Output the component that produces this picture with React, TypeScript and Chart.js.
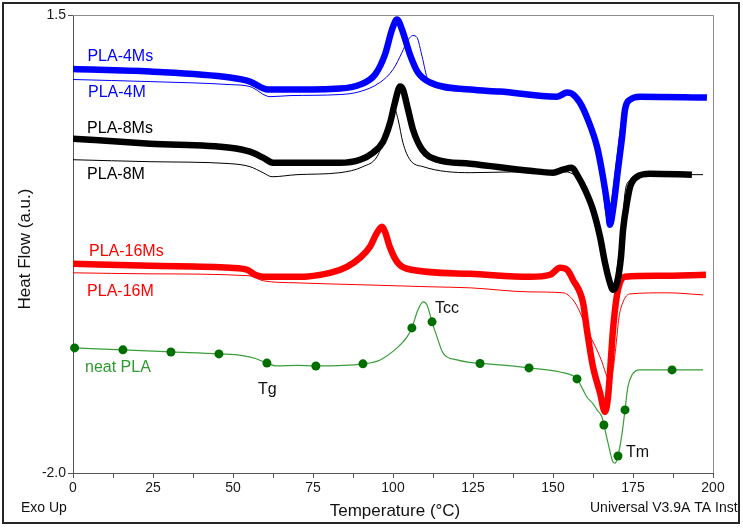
import { useEffect, useRef } from 'react';
import { Chart, registerables } from 'chart.js';

Chart.register(...registerables);

// ---------- data (Temperature °C, Heat Flow a.u.) ----------
const pla4MsT = [0, 24.1, 49.1, 55.3, 60.9, 67.8, 83.4, 89.7, 94.4, 97.5, 99.7, 101.25, 102.8, 105.3, 107.8, 111.6, 124.1, 133.4, 151.25, 154.4, 155.9, 158.4, 160.9, 163.75, 165.6, 167.2, 167.8, 168.75, 170.3, 171.6, 172.5, 174.1, 177.2, 198.1];
const pla4MsHF = [1.087, 1.068, 1.022, 0.991, 0.93, 0.93, 0.938, 0.968, 1.045, 1.198, 1.389, 1.466, 1.389, 1.198, 1.06, 0.984, 0.93, 0.915, 0.876, 0.907, 0.899, 0.831, 0.7, 0.494, 0.264, 0.012, -0.103, 0.012, 0.318, 0.57, 0.777, 0.853, 0.876, 0.869];

const pla4MT = [0, 24.1, 49.1, 55.3, 61.6, 67.8, 83.4, 89.7, 95.9, 100, 102.8, 104.4, 106.25, 107.5, 109.1, 110.9, 113.75, 124.1, 133.4, 151.25, 154.4, 156.9, 160, 163.1, 165.3, 166.9, 168.1, 169.7, 171.25, 172.8, 177.2, 198.1];
const pla4MHF = [1.007, 0.991, 0.968, 0.953, 0.876, 0.884, 0.892, 0.915, 0.984, 1.083, 1.213, 1.297, 1.343, 1.328, 1.182, 1.007, 0.968, 0.93, 0.915, 0.876, 0.899, 0.876, 0.762, 0.547, 0.241, -0.05, 0.05, 0.356, 0.662, 0.823, 0.876, 0.869];

const pla8MsT = [0, 24.1, 49.1, 55.3, 59.4, 62.5, 70, 83.4, 89.7, 93.75, 96.9, 99.1, 100.6, 102.2, 103.1, 104.7, 106.25, 109.1, 113.75, 124.1, 142.8, 150, 153.1, 155.9, 157.5, 160, 162.5, 164.7, 166.25, 167.8, 168.75, 170, 171.25, 171.9, 173.1, 174.1, 176.25, 180.3, 193.4];
const pla8MsHF = [0.555, 0.517, 0.486, 0.456, 0.41, 0.371, 0.371, 0.371, 0.394, 0.448, 0.532, 0.677, 0.831, 0.953, 0.93, 0.777, 0.624, 0.471, 0.394, 0.364, 0.31, 0.295, 0.318, 0.333, 0.28, 0.165, 0.012, -0.195, -0.394, -0.547, -0.6, -0.547, -0.348, -0.141, 0.065, 0.188, 0.264, 0.287, 0.28];

const pla8MT = [0, 24.1, 49.1, 55.3, 59.4, 62.2, 70, 83.4, 90.6, 95, 97.5, 99.1, 100.3, 101.6, 103.1, 105.3, 109.4, 124.1, 142.8, 153.1, 156.9, 159.4, 163.75, 166.25, 167.8, 168.75, 170.3, 171.6, 172.5, 174.1, 177.2, 196.9];
const pla8MHF = [0.394, 0.379, 0.364, 0.341, 0.295, 0.264, 0.28, 0.295, 0.341, 0.417, 0.57, 0.7, 0.792, 0.7, 0.524, 0.394, 0.341, 0.295, 0.303, 0.303, 0.272, 0.188, -0.088, -0.394, -0.577, -0.608, -0.394, -0.141, 0.142, 0.241, 0.28, 0.28];

const pla16MsT = [0, 24.1, 49.1, 54.4, 56.9, 59.4, 70, 80.3, 85.6, 89.7, 92.8, 95, 96.6, 97.5, 99.1, 101.25, 104.4, 124.1, 142.8, 149.1, 152.2, 154.4, 156.25, 159.4, 160.6, 162.5, 164.7, 166.25, 167.2, 167.8, 168.75, 170, 170.9, 172.5, 183.4, 197.8];
const pla16MsHF = [-0.401, -0.417, -0.432, -0.447, -0.485, -0.501, -0.501, -0.47, -0.424, -0.355, -0.271, -0.164, -0.118, -0.157, -0.279, -0.386, -0.439, -0.478, -0.501, -0.485, -0.432, -0.447, -0.524, -0.7, -0.906, -1.189, -1.388, -1.534, -1.418, -1.235, -0.906, -0.638, -0.547, -0.501, -0.493, -0.485];

const pla16MT = [0, 24.1, 55.3, 59.4, 70, 90.6, 111.6, 124.1, 142.8, 153.1, 156.25, 158.4, 160, 162.2, 163.75, 165.3, 166.9, 167.8, 168.75, 169.7, 170.6, 171.9, 174.1, 185.6, 196.9];
const pla16MHF = [-0.47, -0.478, -0.493, -0.531, -0.547, -0.562, -0.577, -0.585, -0.616, -0.623, -0.677, -0.769, -0.868, -0.983, -1.06, -1.151, -1.266, -1.296, -1.212, -1.021, -0.814, -0.692, -0.631, -0.623, -0.639];

const neatT = [0.5, 15.6, 30.6, 45.6, 53, 57, 60.6, 63.5, 70, 75.9, 90.6, 96, 101.25, 104.4, 105.9, 107.8, 109.4, 110.6, 112.2, 113.75, 115.6, 120, 124.1, 127.2, 133.4, 142.5, 152.2, 157.5, 159.4, 160.6, 162.5, 163.75, 165.3, 165.9, 167.2, 168.75, 169.4, 170.3, 171.6, 172.5, 173.4, 174.7, 177.2, 187.2, 196.9];
const neatHF = [-1.044, -1.059, -1.075, -1.09, -1.103, -1.125, -1.16, -1.182, -1.177, -1.182, -1.166, -1.136, -1.044, -0.96, -0.891, -0.753, -0.692, -0.715, -0.845, -0.96, -1.082, -1.136, -1.155, -1.163, -1.174, -1.197, -1.228, -1.281, -1.365, -1.419, -1.47, -1.518, -1.572, -1.633, -1.771, -1.916, -1.924, -1.87, -1.694, -1.518, -1.342, -1.25, -1.212, -1.212, -1.212];
const neatMarkerT = [0.5, 15.6, 30.6, 45.6, 60.6, 75.9, 90.6, 105.9, 112.2, 127.2, 142.5, 157.5, 165.9, 170.3, 172.5, 187.2];

const xTickValues = [0, 25, 50, 75, 100, 125, 150, 175, 200];
const yTickValues = [-2.0, 1.5];

const seriesNames = ['PLA-4Ms', 'PLA-4M', 'PLA-8Ms', 'PLA-8M', 'PLA-16Ms', 'PLA-16M', 'neat PLA'];
const eventNames = ['Tg', 'Tcc', 'Tm'];

// ---------- styling / placement ----------
const FONT = '"Liberation Sans", Arial, sans-serif';
const labelPlacement = [
  { t: 4.5, v: 1.182, color: '#0000ff' },
  { t: 4.7, v: 0.907, color: '#0000ff' },
  { t: 4.4, v: 0.632, color: '#000000' },
  { t: 4.4, v: 0.283, color: '#000000' },
  { t: 5.0, v: -0.309, color: '#ff0000' },
  { t: 4.4, v: -0.616, color: '#ff0000' },
  { t: 3.75, v: -1.193, color: '#2f9a2f' },
];
const eventPlacement = [
  { t: 57.8, v: -1.365 },
  { t: 113.1, v: -0.746 },
  { t: 172.8, v: -1.843 },
];

const pts = (t: number[], v: number[]) => t.map((x, i) => ({ x, y: v[i] }));

const overlayPlugin = {
  id: 'overlay',
  afterDraw(chart: any) {
    const ctx = chart.ctx as CanvasRenderingContext2D;
    const xs = chart.scales.x;
    const ys = chart.scales.y;
    const ca = chart.chartArea;
    ctx.save();
    // top & right frame lines
    ctx.strokeStyle = '#8c8c8c';
    ctx.lineWidth = 1;
    ctx.beginPath();
    ctx.moveTo(ca.left, Math.floor(ca.top) + 0.5);
    ctx.lineTo(Math.floor(ca.right) + 0.5, Math.floor(ca.top) + 0.5);
    ctx.lineTo(Math.floor(ca.right) + 0.5, ca.bottom);
    ctx.stroke();

    ctx.textBaseline = 'middle';
    ctx.textAlign = 'left';
    ctx.font = `16px ${FONT}`;
    seriesNames.forEach((name, i) => {
      const p = labelPlacement[i];
      ctx.fillStyle = p.color;
      ctx.fillText(name, xs.getPixelForValue(p.t), ys.getPixelForValue(p.v));
    });
    ctx.fillStyle = '#111';
    eventNames.forEach((name, i) => {
      const p = eventPlacement[i];
      ctx.fillText(name, xs.getPixelForValue(p.t), ys.getPixelForValue(p.v));
    });

    // axis titles
    ctx.fillStyle = '#111';
    ctx.font = `17px ${FONT}`;
    ctx.textAlign = 'center';
    ctx.fillText('Temperature (°C)', 395, 511);
    ctx.save();
    ctx.translate(25, 249);
    ctx.rotate(-Math.PI / 2);
    ctx.font = `17px ${FONT}`;
    ctx.fillText('Heat Flow (a.u.)', 0, 0);
    ctx.restore();

    ctx.font = `14px ${FONT}`;
    ctx.textAlign = 'left';
    ctx.fillText('Exo Up', 21, 508);
    ctx.save();
    ctx.beginPath();
    ctx.rect(4, 4, 734, 518);
    ctx.clip();
    ctx.fillText('Universal V3.9A TA Instruments', 590, 508);
    ctx.restore();

    // outer border
    ctx.strokeStyle = '#262626';
    ctx.lineWidth = 2;
    ctx.strokeRect(3, 3, 736, 520);
    ctx.restore();
  },
};

export default function App() {
  const ref = useRef<HTMLCanvasElement>(null);
  useEffect(() => {
    document.body.style.margin = '0';
    const canvas = ref.current!;
    const thick = (color: string, data: any, order = 3) => ({
      data, borderColor: color, backgroundColor: color, borderWidth: 6.5, pointRadius: 0,
      cubicInterpolationMode: 'monotone', order, borderJoinStyle: 'round',
    });
    const thin = (color: string, data: any, order = 2) => ({
      data, borderColor: color, backgroundColor: color, borderWidth: 1, pointRadius: 0,
      cubicInterpolationMode: 'monotone', order,
    });
    const chart = new Chart(canvas, {
      type: 'line',
      data: {
        datasets: [
          { label: seriesNames[0], ...thick('#0000ff', pts(pla4MsT, pla4MsHF)) },
          { label: seriesNames[1], ...thin('#0000ff', pts(pla4MT, pla4MHF)) },
          { label: seriesNames[2], ...thick('#000000', pts(pla8MsT, pla8MsHF)) },
          { label: seriesNames[3], ...thin('#000000', pts(pla8MT, pla8MHF)) },
          { label: seriesNames[4], ...thick('#ff0000', pts(pla16MsT, pla16MsHF)) },
          { label: seriesNames[5], ...thin('#ff0000', pts(pla16MT, pla16MHF)) },
          {
            label: seriesNames[6],
            data: pts(neatT, neatHF),
            borderColor: '#3a9e3a',
            borderWidth: 1.2,
            cubicInterpolationMode: 'monotone',
            pointRadius: (c: any) => (neatMarkerT.includes(c.raw?.x) ? 4.5 : 0),
            pointHoverRadius: 0,
            pointBackgroundColor: '#006f00',
            pointBorderColor: '#006f00',
            pointBorderWidth: 0,
            order: 1,
            clip: false,
          } as any,
        ] as any,
      },
      options: {
        animation: false,
        responsive: false,
        events: [],
        layout: { padding: { left: 0, top: 15, right: 30, bottom: 0 } },
        plugins: { legend: { display: false }, tooltip: { enabled: false } },
        scales: {
          x: {
            type: 'linear',
            min: 0,
            max: 200,
            afterFit: (s: any) => { s.height = 55; },
            ticks: {
              stepSize: 12.5,
              autoSkip: false,
              maxRotation: 0,
              padding: 2,
              color: '#1a1a1a',
              font: { family: FONT, size: 14 },
              callback: (v: any) => (xTickValues.includes(Number(v)) ? String(v) : ''),
            },
            grid: { display: true, drawOnChartArea: false, drawTicks: true, tickLength: 5, color: '#555' },
            border: { display: true, color: '#555', width: 1 },
          },
          y: {
            type: 'linear',
            min: -2,
            max: 1.5,
            afterFit: (s: any) => { s.width = 73; },
            afterBuildTicks: (s: any) => { s.ticks = yTickValues.map((value) => ({ value })); },
            ticks: {
              padding: 2,
              color: '#1a1a1a',
              font: { family: FONT, size: 14 },
              callback: (v: any) => Number(v).toFixed(1),
            },
            grid: { display: true, drawOnChartArea: false, drawTicks: true, tickLength: 5, color: '#555' },
            border: { display: true, color: '#555', width: 1 },
          },
        },
      } as any,
      plugins: [overlayPlugin],
    });
    return () => chart.destroy();
  }, []);
  return <canvas ref={ref} width={743} height={528} style={{ display: 'block', width: 743, height: 528 }} />;
}
